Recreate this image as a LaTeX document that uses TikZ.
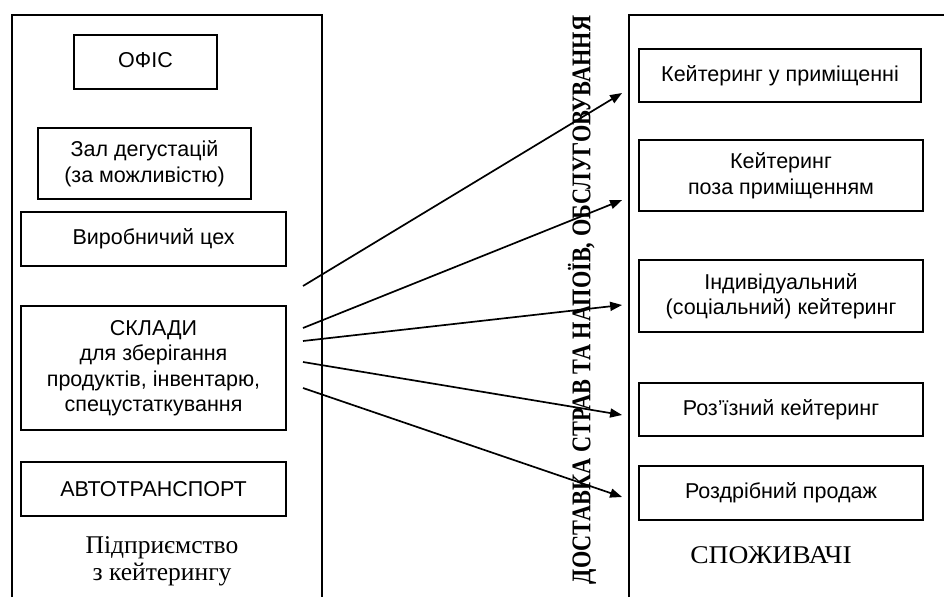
\documentclass[tikz,border=0pt]{standalone}
\usepackage{fontspec}
\setmainfont{Liberation Serif}
\newfontfamily\boxfont{Liberation Sans}
\usepackage{graphicx}
\usepackage{tikz}
\usetikzlibrary{arrows.meta, positioning}
\tikzset{
  unitbox/.style = {
    rectangle,
    draw=black,
    fill=white,
    text=black,
    font=\boxfont\fontsize{21.5}{25.5}\selectfont,
    align=center,
    inner sep=2pt,
    line width=1.8pt
  },
  framewall/.style = {
    draw=black,
    line width=1.2pt
  },
  captiontext/.style = {
    font=\fontsize{25.5}{27}\selectfont,
    align=center,
    inner sep=0pt
  },
  deliverarrow/.style = {
    -{Triangle[length=12pt, width=9pt]},
    line width=1.7pt,
    draw=black
  }
}

\begin{document}
\begin{tikzpicture}[x=1pt, y=-1pt]
  \useasboundingbox (0,0) rectangle (944,597);

  % Frames: enterprise and consumers
  \draw[framewall] (12,597) -- (12,15) -- (322,15) -- (322,597);
  \draw[framewall] (629,597) -- (629,15) -- (944,15);

  % Enterprise units
  \node[unitbox, minimum width=143pt, minimum height=54pt] (ofis) at (145.5, 62) {\raisebox{4pt}{ОФІС}};
  \node[unitbox, minimum width=213pt, minimum height=71pt] (zal) at (144.5, 163.5) {Зал дегустацій\\(за можливістю)};
  \node[unitbox, minimum width=265pt, minimum height=54pt] (tsekh) at (153.5, 239) {Виробничий цех};
  \node[unitbox, minimum width=265pt, minimum height=124pt] (sklady) at (153.5, 368) {СКЛАДИ\\для зберігання\\продуктів, інвентарю,\\спецустаткування};
  \node[unitbox, minimum width=265pt, minimum height=54pt] (avto) at (153.5, 489) {АВТОТРАНСПОРТ};
  \node[captiontext] (pidpr) at (162, 561) {Підприємство\\з кейтерингу};

  % Delivery label
  \node[rotate=90, inner sep=0pt, font=\bfseries\fontsize{27}{27}\selectfont] (dostavka) at (582, 300)
    {\scalebox{0.825}[1]{ДОСТАВКА СТРАВ ТА НАПОЇВ, ОБСЛУГОВУВАННЯ}};

  % Consumer types
  \node[unitbox, minimum width=282pt, minimum height=53pt] (kin) at (780, 75.5) {Кейтеринг у приміщенні};
  \node[unitbox, minimum width=284pt, minimum height=71pt] (kout) at (781, 175.5) {Кейтеринг\\поза приміщенням};
  \node[unitbox, minimum width=284pt, minimum height=72pt] (kind) at (781, 296) {Індивідуальний\\(соціальний) кейтеринг};
  \node[unitbox, minimum width=284pt, minimum height=53pt] (kroz) at (781, 409.5) {Роз’їзний кейтеринг};
  \node[unitbox, minimum width=284pt, minimum height=54pt] (kret) at (781, 493) {Роздрібний продаж};
  \node[captiontext] (spozh) at (771, 555) {\scalebox{1.08}[1]{СПОЖИВАЧІ}};

  % Arrow ends
  \coordinate (s1) at (303, 286);
  \coordinate (s2) at (303, 328);
  \coordinate (s3) at (303, 341);
  \coordinate (s4) at (303, 362);
  \coordinate (s5) at (303, 388);
  \coordinate (e1) at ([xshift=-16pt, yshift=-17.5pt]kin.west);
  \coordinate (e2) at ([xshift=-16pt, yshift=-24.5pt]kout.west);
  \coordinate (e3) at ([xshift=-16pt, yshift=-9pt]kind.west);
  \coordinate (e4) at ([xshift=-16pt, yshift=-5.5pt]kroz.west);
  \coordinate (e5) at ([xshift=-16pt, yshift=-4pt]kret.west);

  % Delivery arrows
  \draw[deliverarrow] (s1) -- (e1);
  \draw[deliverarrow] (s2) -- (e2);
  \draw[deliverarrow] (s3) -- (e3);
  \draw[deliverarrow] (s4) -- (e4);
  \draw[deliverarrow] (s5) -- (e5);
\end{tikzpicture}
\end{document}
